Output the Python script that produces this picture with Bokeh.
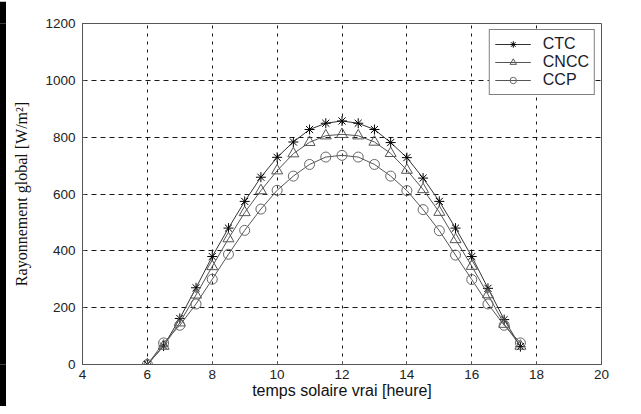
from bokeh.plotting import figure
from bokeh.embed import file_html
from bokeh.resources import INLINE
from bokeh.layouts import column, row
from bokeh.models import Range1d, FixedTicker, Legend, LegendItem

# ---- data ----
hours = [6, 6.5, 7, 7.5, 8, 8.5, 9, 9.5, 10, 10.5, 11, 11.5,
         12, 12.5, 13, 13.5, 14, 14.5, 15, 15.5, 16, 16.5, 17, 17.5]
ctc = [0, 65, 162, 270, 380, 480, 574, 659, 729, 783, 827, 849,
       857, 849, 827, 781, 728, 656, 574, 480, 380, 268, 158, 63]
cncc = [0, 65, 147, 245, 345, 443, 535, 612, 682, 742, 782, 805,
        810, 805, 783, 743, 684, 616, 536, 440, 346, 246, 142, 65]
ccp = [0, 76, 138, 213, 300, 388, 472, 547, 613, 663, 704, 730,
       736, 730, 704, 663, 612, 545, 471, 385, 299, 213, 138, 76]
x_ticks = [4, 6, 8, 10, 12, 14, 16, 18, 20]
y_ticks = [0, 200, 400, 600, 800, 1000, 1200]
series_names = ["CTC", "CNCC", "CCP"]

W, H = 627, 405
BAR_L, BAR_T = 7, 4

def black_bar(w, h):
    f = figure(width=w, height=h, output_backend="svg", toolbar_location=None,
               min_border=0, x_axis_type=None, y_axis_type=None)
    f.background_fill_color = "black"
    f.border_fill_color = "black"
    f.outline_line_color = None
    f.grid.visible = False
    return f

p = figure(width=W, height=H, output_backend="svg", toolbar_location=None,
           x_range=Range1d(4, 20), y_range=Range1d(0, 1200),
           min_border_left=76, min_border_right=32, min_border_top=22, min_border_bottom=42)

p.outline_line_color = "#555555"
p.outline_line_width = 1
p.background_fill_color = "white"
p.border_fill_color = "white"

for ax in (p.xaxis[0], p.yaxis[0]):
    ax.axis_line_color = "#555555"
    ax.major_tick_line_color = "#555555"
    ax.major_tick_in = 3
    ax.major_tick_out = 0
    ax.minor_tick_line_color = None
    ax.major_label_text_font = "Liberation Sans"
    ax.major_label_text_font_size = "13.5px"
    ax.major_label_text_color = "#222222"
    ax.axis_label_text_font_style = "normal"
    ax.axis_label_text_color = "#111111"

p.xaxis.ticker = FixedTicker(ticks=x_ticks)
p.yaxis.ticker = FixedTicker(ticks=y_ticks)
p.xaxis.major_label_standoff = 5
p.yaxis.major_label_standoff = 7

p.xaxis.axis_label = "temps solaire vrai [heure]"
p.xaxis.axis_label_text_font = "Liberation Sans"
p.xaxis.axis_label_text_font_size = "16px"
p.xaxis.axis_label_standoff = 0

p.yaxis.axis_label = "Rayonnement global [W/m²]"
p.yaxis.axis_label_text_font = "Liberation Serif"
p.yaxis.axis_label_text_font_size = "16px"
p.yaxis.axis_label_standoff = 12

p.xgrid.grid_line_color = "black"
p.xgrid.grid_line_dash = "3 5"
p.xgrid.grid_line_width = 1
p.xgrid.grid_line_alpha = 0.9
p.ygrid.grid_line_color = "black"
p.ygrid.grid_line_dash = "5 4"
p.ygrid.grid_line_width = 1
p.ygrid.grid_line_alpha = 0.9

line_col = "#555555"
l1 = p.line(hours, ctc, line_color="#333333", line_width=1)
s1 = p.scatter(hours, ctc, marker="asterisk", size=10, line_color="black", line_width=1)
l2 = p.line(hours, cncc, line_color=line_col, line_width=1)
s2 = p.scatter(hours, cncc, marker="triangle", size=11, line_color="#555555",
               fill_color=None, line_width=1)
l3 = p.line(hours, ccp, line_color=line_col, line_width=1)
s3 = p.scatter(hours, ccp, marker="circle", size=10, line_color="#666666",
               fill_color=None, line_width=1)

legend = Legend(items=[
    LegendItem(label=series_names[0], renderers=[l1, s1]),
    LegendItem(label=series_names[1], renderers=[l2, s2]),
    LegendItem(label=series_names[2], renderers=[l3, s3]),
], location="top_right")
legend.margin = 6
legend.padding = 5
legend.spacing = 0
legend.glyph_width = 36
legend.glyph_height = 16
legend.label_height = 16
legend.label_standoff = 12
legend.label_text_font = "Liberation Sans"
legend.label_text_font_size = "16px"
legend.label_text_color = "#1a1a2a"
legend.border_line_color = "black"
legend.border_line_width = 1
legend.background_fill_color = "white"
legend.background_fill_alpha = 1.0
p.add_layout(legend, "center")

layout = column(black_bar(W + BAR_L, BAR_T),
                row(black_bar(BAR_L, H), p, spacing=0),
                spacing=0,
                styles={"margin-left": "-1px", "margin-top": "-3px",
                        "margin-right": "-8px", "margin-bottom": "-8px"})

open("out.html", "w").write(file_html(layout, INLINE))
